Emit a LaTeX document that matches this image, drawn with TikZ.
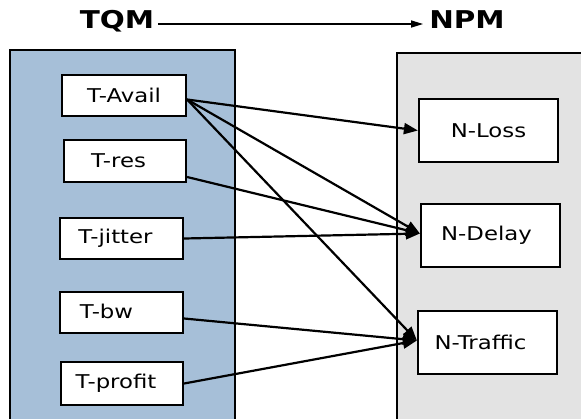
\documentclass[tikz,border=0pt]{standalone}
\usepackage{fontspec}
\setmainfont{DejaVu Sans}[FakeStretch=1.2]
\usetikzlibrary{arrows.meta}
\definecolor{tqmblue}{RGB}{166,191,216}
\definecolor{npmgray}{RGB}{227,227,227}
\tikzset{
  panel/.style={draw=black, line width=2.2pt},
  qbox/.style={draw=black, fill=white, line width=2.2pt, inner sep=0pt,
    font=\fontsize{19}{22}\selectfont},
  link/.style={line width=2.2pt, -{Triangle[length=14pt,width=11pt]}},
  title/.style={font=\bfseries\fontsize{24.5}{28}\selectfont, text height=8pt, text depth=0pt, inner xsep=4pt, inner ysep=0pt}
}
\begin{document}
\begin{tikzpicture}[x=1pt,y=-1pt]
\useasboundingbox (0,0) rectangle (581,418);
\clip (0,0) rectangle (581,418);
\fill[white] (0,0) rectangle (581,418);
% panels
\draw[panel, fill=tqmblue] (10,50) rectangle (235,440);
\draw[panel, fill=npmgray] (397,53) rectangle (620,440);
% title
\node[title, anchor=base] (tqm) at (117,28) {TQM};
\node[title, anchor=base, inner xsep=6pt] (npm) at (467,28) {NPM};
\draw[line width=1.4pt, -{Triangle[length=12pt,width=7pt]}] (tqm.east) -- (npm.west);
% left boxes
\node[qbox, minimum width=124pt, minimum height=41pt] (tavail) at (124,95.5) {T-Avail};
\node[qbox, minimum width=122pt, minimum height=42pt] (tres) at (125,161) {\hspace*{-13pt}T-res};
\node[qbox, minimum width=123pt, minimum height=41pt] (tjitter) at (121.5,238.5) {\hspace*{-12pt}T-jitter};
\node[qbox, minimum width=123pt, minimum height=41pt] (tbw) at (121.5,312.5) {\hspace*{-30pt}\raisebox{2pt}{T-bw}};
\node[qbox, minimum width=122pt, minimum height=43pt] (tprofit) at (122,383.5) {\hspace*{-12pt}T-profit};
% right boxes
\node[qbox, minimum width=139pt, minimum height=63pt] (nloss) at (488.5,130.5) {N-Loss};
\node[qbox, minimum width=139pt, minimum height=63pt] (ndelay) at (490.5,235.5) {\hspace*{-8pt}N-Delay};
\node[qbox, minimum width=139pt, minimum height=63pt] (ntraffic) at (487.5,342.5) {\hspace*{-14pt}N-Traffic};
% links
\draw[link] ([yshift=-4pt]tavail.east) -- (nloss.west);
\draw[link] ([yshift=-4pt]tavail.east) -- ([yshift=2pt]ndelay.west);
\draw[link] ([yshift=-4pt]tavail.east) -- ([yshift=2pt]ntraffic.west);
\draw[link] ([yshift=-16pt]tres.east) -- ([yshift=2pt]ndelay.west);
\draw[link] (tjitter.east) -- ([yshift=2pt]ndelay.west);
\draw[link] ([yshift=-6pt]tbw.east) -- ([yshift=2pt]ntraffic.west);
\draw[link] (tprofit.east) -- ([yshift=2pt]ntraffic.west);
\end{tikzpicture}
\end{document}
